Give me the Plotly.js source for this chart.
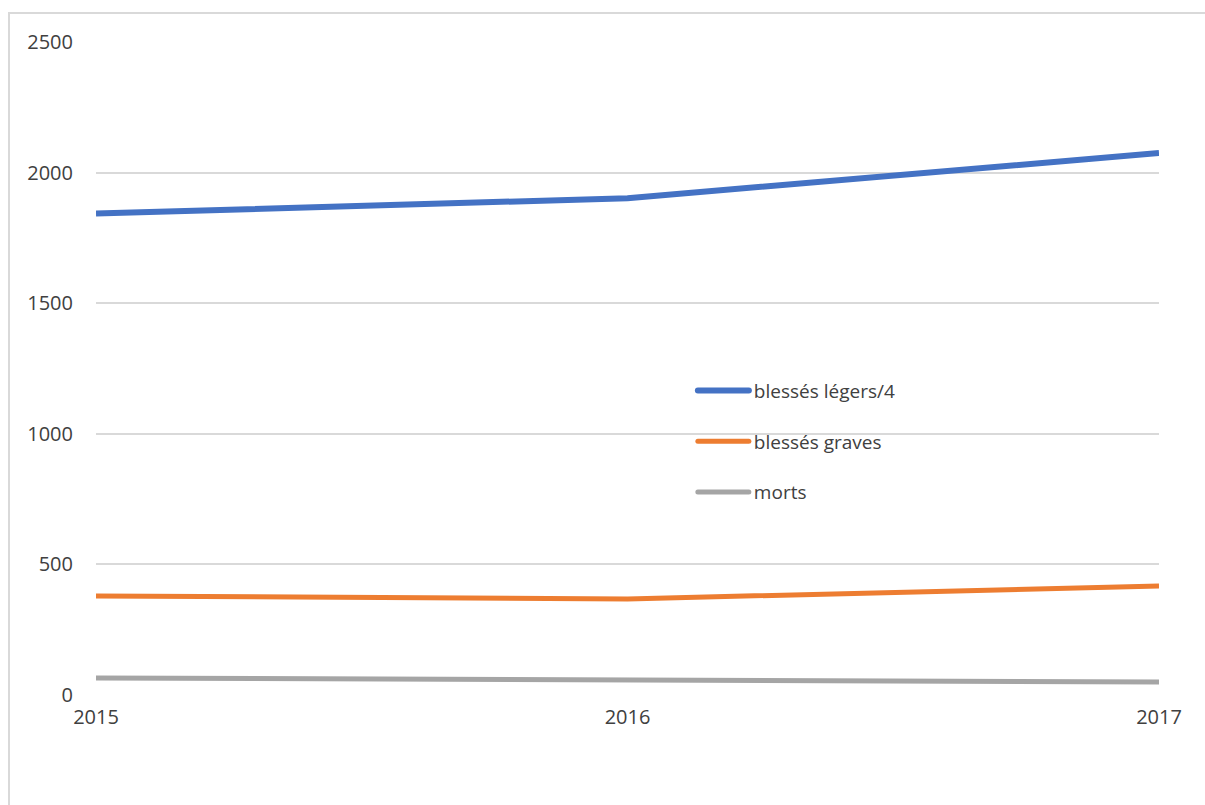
<!DOCTYPE html>
<html>
<head>
<meta charset="utf-8">
<script src="https://cdn.plot.ly/plotly-3.0.1.min.js"></script>
<style>
html,body{margin:0;padding:0;background:#fff;}
#wrap{position:relative;width:1205px;height:805px;overflow:hidden;}
#frame{position:absolute;left:8px;top:12px;width:1300px;height:900px;border-left:2px solid #d9d9d9;border-top:2px solid #d9d9d9;pointer-events:none;z-index:5;}
#chart{position:absolute;left:0;top:0;width:1205px;height:805px;}
</style>
</head>
<body>
<div id="wrap"><div id="chart"></div><div id="frame"></div></div>
<script>
const years = [2015, 2016, 2017];
const yearLabels = ['2015', '2016', '2017'];
const blessesLegers4 = [1843, 1902, 2075];
const blessesGraves = [379, 368, 417];
const morts = [65, 58, 50];
const yTicks = [0, 500, 1000, 1500, 2000, 2500];

const font = {family: 'Open Sans, sans-serif', color: '#404040'};

const traces = [
  {x: years, y: blessesLegers4, name: 'blessés légers/4', mode: 'lines', legendgroup: 'a',
   line: {color: '#4472c4', width: 6}},
  {x: years, y: blessesGraves, name: 'blessés graves', mode: 'lines', legendgroup: 'b',
   line: {color: '#ed7d31', width: 5}},
  {x: years, y: morts, name: 'morts', mode: 'lines', legendgroup: 'c',
   line: {color: '#a5a5a5', width: 5}}
];

const layout = {
  width: 1205, height: 805,
  margin: {l: 96, r: 46, t: 42, b: 110},
  paper_bgcolor: 'rgba(0,0,0,0)', plot_bgcolor: '#fff',
  font: Object.assign({size: 19}, font),
  showlegend: true,
  legend: {x: 0.5615, y: 0.495, xanchor: 'left', yanchor: 'top', tracegroupgap: 23,
    itemwidth: 51, font: Object.assign({size: 19}, font), bgcolor: 'rgba(0,0,0,0)'},
  xaxis: {range: [2015, 2017], tickvals: years, ticktext: yearLabels, showgrid: false,
    zeroline: false, showline: false, ticks: '', ticklabelstandoff: 8,
    tickfont: Object.assign({size: 20}, font)},
  yaxis: {range: [0, 2500], tickvals: yTicks, showgrid: true, gridcolor: '#d9d9d9', gridwidth: 2,
    zeroline: false, showline: false, ticks: '', ticklabelstandoff: 22,
    tickfont: Object.assign({size: 20}, font)}
};

const gd = document.getElementById('chart');
Plotly.newPlot(gd, traces, layout, {displayModeBar: false, staticPlot: true}).then(function () {
  gd.querySelectorAll('.legend .legendlines path').forEach(function (p) {
    p.setAttribute('d', 'M5,0h51');
    p.style.strokeLinecap = 'round';
  });
});
</script>
</body>
</html>
